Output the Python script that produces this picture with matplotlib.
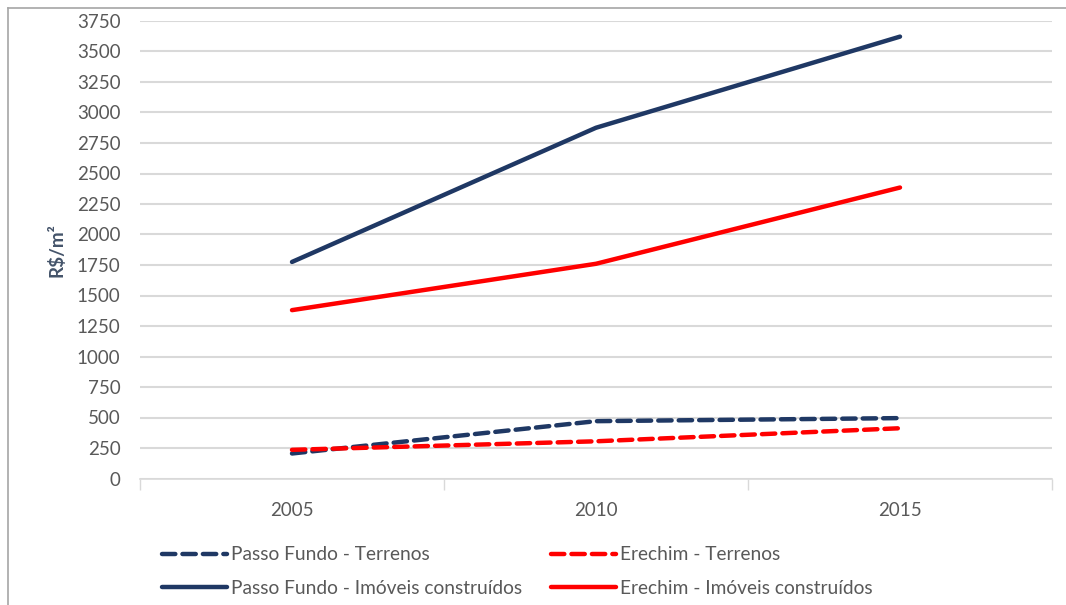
import matplotlib
matplotlib.use("Agg")
import matplotlib.pyplot as plt
from matplotlib.lines import Line2D

plt.rcParams['font.family'] = ['Lato', 'DejaVu Sans']

anos = ["2005", "2010", "2015"]
pf_terrenos = [205, 470, 495]
er_terrenos = [235, 305, 412]
pf_imoveis = [1775, 2875, 3622]
er_imoveis = [1380, 1760, 2385]

NAVY = "#1F3864"
RED = "#FF0000"
GRID = "#D9D9D9"
TXT = "#595959"

fig = plt.figure(figsize=(10.66, 6.05), dpi=100)
ax = fig.add_axes([140 / 1066, 1 - 478.5 / 605, 912 / 1066, 457.5 / 605])

x = list(range(len(anos)))
lw = 3.2
l1, = ax.plot(x, pf_terrenos, color=NAVY, lw=lw, dashes=(3, 1.6), dash_capstyle="round",
              label="Passo Fundo - Terrenos", zorder=3)
l2, = ax.plot(x, er_terrenos, color=RED, lw=lw, dashes=(3, 1.6), dash_capstyle="round",
              label="Erechim - Terrenos", zorder=3)
l3, = ax.plot(x, pf_imoveis, color=NAVY, lw=lw, solid_capstyle="round",
              label="Passo Fundo - Imóveis construídos", zorder=3)
l4, = ax.plot(x, er_imoveis, color=RED, lw=lw, solid_capstyle="round",
              label="Erechim - Imóveis construídos", zorder=3)

ax.set_xlim(-0.5, 2.5)
ax.set_ylim(0, 3750)
ax.set_yticks(range(0, 3751, 250))
ax.set_xticks(x)
ax.set_xticklabels(anos)
ax.set_xticks([-0.5, 0.5, 1.5, 2.5], minor=True)
ax.tick_params(axis="x", which="major", length=0, pad=17, labelsize=13.5, labelcolor=TXT)
ax.tick_params(axis="x", which="minor", length=8, width=1, color=GRID, direction="out")
ax.tick_params(axis="y", length=0, pad=14, labelsize=13.5, labelcolor=TXT)
ax.grid(axis="y", color=GRID, lw=1.5, zorder=0)
for s in ["top", "right", "left"]:
    ax.spines[s].set_visible(False)
ax.spines["bottom"].set_color(GRID)
ax.spines["bottom"].set_linewidth(1.2)
ax.set_ylabel("R$/m²", fontsize=13.5, color="#44546A", fontweight="bold", labelpad=8)

# ncol fills column-wise: terrenos on the first row, imóveis on the second
handles = [l1, l3, l2, l4]
fig.legend(handles, [h.get_label() for h in handles], loc="upper left",
           bbox_to_anchor=(145 / 1066, 1 - 529 / 605),
           ncol=2, frameon=False, fontsize=13.8, labelcolor=TXT, handlelength=3.4,
           handletextpad=0.2, columnspacing=1.5, labelspacing=0.85)

# chart area border (left and top)
fig.add_artist(Line2D([7.5 / 1066, 7.5 / 1066], [0, 1 - 7.5 / 605], color="#A6A6A6", lw=1.2))
fig.add_artist(Line2D([7.5 / 1066, 1], [1 - 7.5 / 605, 1 - 7.5 / 605], color="#A6A6A6", lw=1.2))

fig.savefig("out.png", dpi=100)
